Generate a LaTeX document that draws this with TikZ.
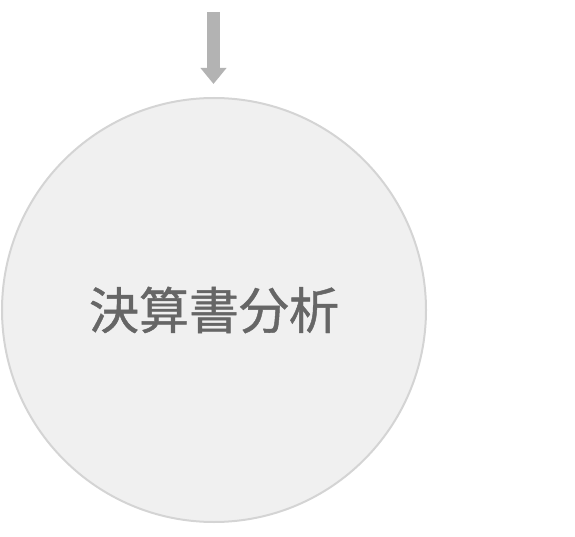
\documentclass[tikz,border=0pt]{standalone}
\usepackage{fontspec}
\newfontfamily\cjk[FakeBold=0.9]{Noto Sans CJK JP}
\usetikzlibrary{arrows.meta}
\definecolor{ringfill}{HTML}{F0F0F0}
\definecolor{ringline}{HTML}{D4D4D4}
\definecolor{txtgray}{HTML}{666666}
\definecolor{arrgray}{HTML}{B3B3B3}
\begin{document}
\begin{tikzpicture}[x=1pt,y=-1pt,
  topic/.style={circle,fill=ringfill,draw=ringline,line width=2pt,minimum size=424pt,inner sep=0pt,
    text=txtgray,font=\cjk\fontsize{50}{50}\selectfont},
  feed/.style={arrgray,line width=13pt,-{Triangle[width=25pt,length=16pt]}}]
\useasboundingbox (0,0) rectangle (575,537);

\node[topic] (kessan) at (214,310) {決算書分析};
\coordinate (src) at (213.5,12);
\coordinate (dst) at ([yshift=13pt]kessan.north);
\draw[feed] (src) -- (dst -| src);

\end{tikzpicture}
\end{document}
